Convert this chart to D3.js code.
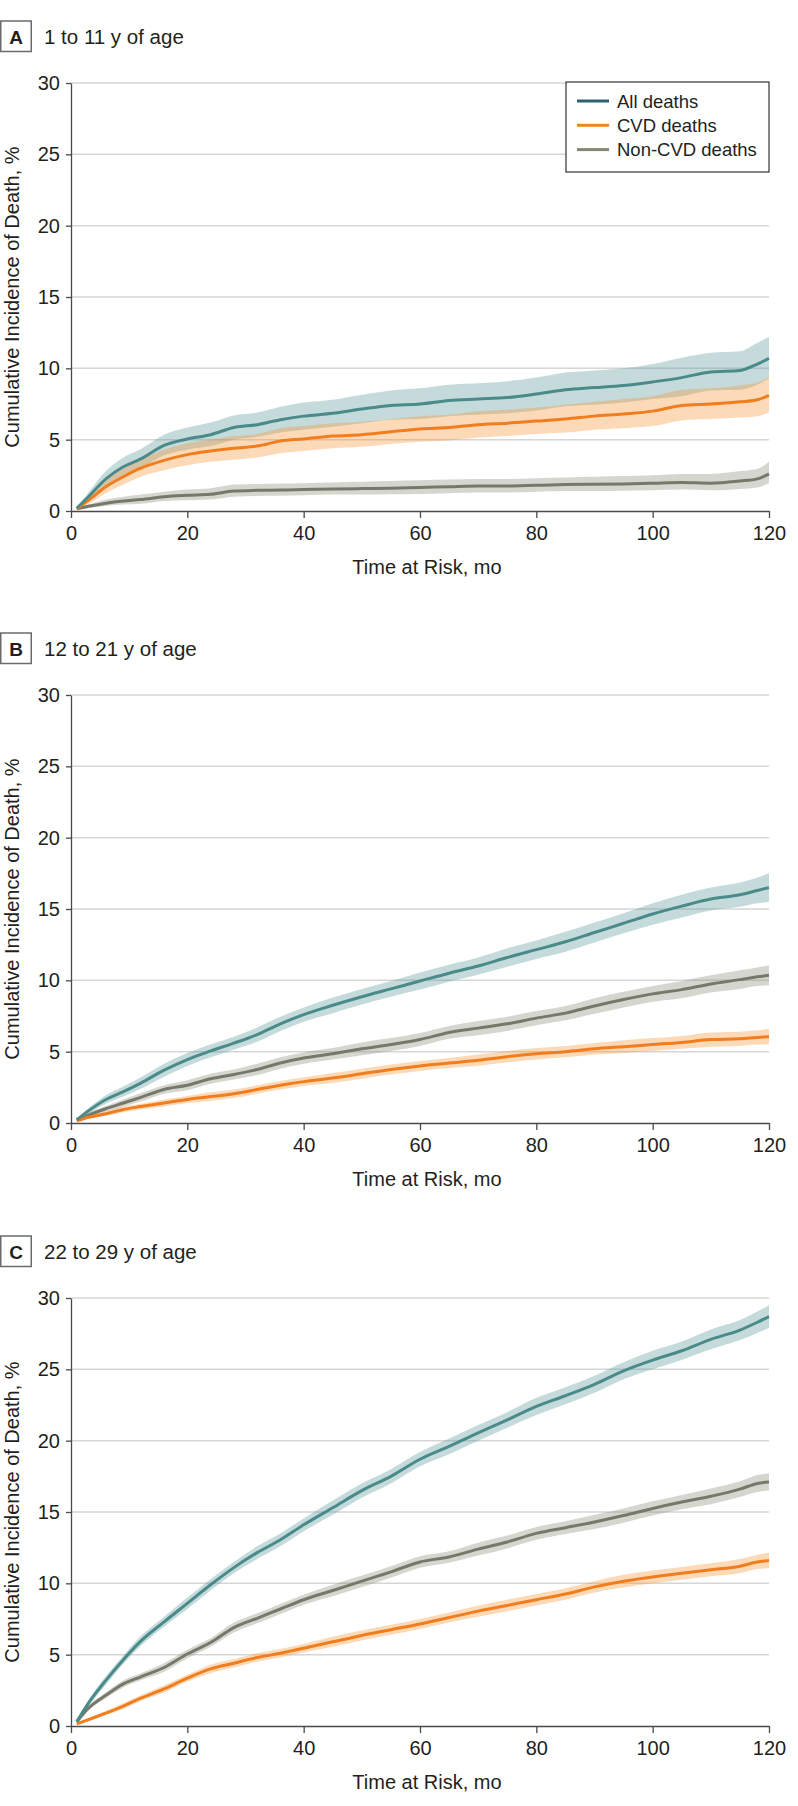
<!DOCTYPE html>
<html>
<head>
<meta charset="utf-8">
<script src="https://cdn.jsdelivr.net/npm/d3@7"></script>
<style>
  html, body { margin: 0; padding: 0; background: #fff; }
  svg { display: block; }
  text { font-family: "Liberation Sans", Arial, sans-serif; fill: #231f20; }
</style>
</head>
<body>
<svg id="chart" width="798" height="1806"></svg>
<script>
// ---------------- DATA ----------------
const months = [1,3,6,9,12,16,20,24,28,32,36,40,45,50,55,60,65,70,75,80,85,90,95,100,105,110,115,118,120];
const xTicks = [0,20,40,60,80,100,120];
const yTicks = [0,5,10,15,20,25,30];
const seriesNames = ["All deaths","CVD deaths","Non-CVD deaths"];
const panelLetters = ["A","B","C"];
const panelTitles = ["1 to 11 y of age","12 to 21 y of age","22 to 29 y of age"];

// Panel A
const aAll    = [0.2,1.0,2.25,3.1,3.65,4.6,5.05,5.35,5.85,6.05,6.4,6.65,6.85,7.15,7.4,7.5,7.75,7.85,7.95,8.2,8.5,8.65,8.8,9.05,9.35,9.75,9.85,10.3,10.7];
const aAllHi  = [0.25,1.3,2.8,3.75,4.35,5.35,5.85,6.2,6.7,6.9,7.3,7.6,7.8,8.15,8.45,8.6,8.85,8.95,9.1,9.35,9.7,9.85,10.0,10.3,10.75,11.1,11.2,11.8,12.2];
const aAllLo  = [0.15,0.75,1.75,2.5,3.0,3.9,4.3,4.55,5.0,5.2,5.5,5.7,5.9,6.15,6.4,6.45,6.65,6.75,6.85,7.05,7.35,7.45,7.6,7.85,8.05,8.45,8.5,8.85,9.3];
const aCvd    = [0.15,0.75,1.7,2.4,3.0,3.55,3.95,4.2,4.4,4.55,4.9,5.05,5.25,5.35,5.55,5.75,5.85,6.05,6.15,6.3,6.45,6.65,6.8,7.0,7.4,7.5,7.65,7.8,8.1];
const aCvdHi  = [0.2,1.05,2.2,3.0,3.65,4.3,4.75,5.0,5.25,5.4,5.8,5.95,6.15,6.25,6.45,6.65,6.75,7.0,7.1,7.25,7.45,7.65,7.85,8.05,8.5,8.6,8.8,9.0,9.4];
const aCvdLo  = [0.1,0.5,1.25,1.85,2.4,2.85,3.2,3.45,3.6,3.75,4.05,4.2,4.4,4.5,4.7,4.85,4.95,5.15,5.25,5.4,5.5,5.7,5.8,5.95,6.35,6.45,6.55,6.65,6.9];
const aNon    = [0.15,0.33,0.55,0.7,0.8,1.0,1.1,1.17,1.4,1.45,1.47,1.5,1.55,1.57,1.6,1.65,1.7,1.75,1.75,1.8,1.85,1.87,1.9,1.95,2.0,1.95,2.1,2.25,2.6];
const aNonHi  = [0.2,0.45,0.8,1.0,1.15,1.35,1.5,1.6,1.85,1.9,1.92,1.95,2.0,2.05,2.1,2.15,2.2,2.25,2.25,2.3,2.35,2.4,2.45,2.5,2.6,2.6,2.8,2.95,3.45];
const aNonLo  = [0.1,0.2,0.35,0.45,0.5,0.7,0.75,0.8,1.0,1.05,1.07,1.1,1.15,1.15,1.18,1.2,1.25,1.3,1.3,1.35,1.4,1.4,1.42,1.45,1.5,1.45,1.55,1.65,1.95];

// Panel B
const bAll    = [0.23,0.85,1.65,2.2,2.8,3.7,4.45,5.05,5.6,6.2,6.95,7.6,8.25,8.85,9.4,9.95,10.5,11.0,11.6,12.15,12.7,13.35,14.0,14.65,15.2,15.7,16.0,16.3,16.5];
const bAllHi  = [0.28,1.05,1.95,2.55,3.2,4.15,4.9,5.5,6.05,6.7,7.45,8.1,8.8,9.4,9.95,10.55,11.1,11.6,12.25,12.8,13.4,14.05,14.7,15.4,16.0,16.5,16.85,17.2,17.5];
const bAllLo  = [0.18,0.65,1.35,1.85,2.4,3.25,4.0,4.6,5.15,5.7,6.45,7.1,7.7,8.3,8.85,9.35,9.9,10.4,10.95,11.5,12.0,12.65,13.3,13.9,14.4,14.9,15.15,15.4,15.5];
const bCvd    = [0.15,0.4,0.65,0.95,1.15,1.4,1.65,1.85,2.05,2.35,2.65,2.9,3.15,3.45,3.75,4.0,4.2,4.4,4.65,4.85,5.0,5.2,5.35,5.5,5.65,5.85,5.9,6.0,6.05];
const bCvdHi  = [0.2,0.5,0.8,1.15,1.35,1.65,1.9,2.15,2.35,2.65,2.95,3.2,3.5,3.8,4.1,4.35,4.55,4.8,5.05,5.25,5.4,5.6,5.8,5.95,6.1,6.35,6.4,6.5,6.6];
const bCvdLo  = [0.1,0.3,0.5,0.75,0.95,1.15,1.4,1.55,1.75,2.05,2.35,2.6,2.8,3.1,3.4,3.65,3.85,4.0,4.25,4.45,4.6,4.8,4.9,5.05,5.2,5.35,5.4,5.5,5.5];
const bNon    = [0.2,0.55,1.0,1.4,1.8,2.35,2.65,3.1,3.4,3.75,4.2,4.55,4.85,5.2,5.5,5.85,6.35,6.65,6.95,7.35,7.7,8.2,8.65,9.05,9.35,9.75,10.05,10.25,10.35];
const bNonHi  = [0.25,0.7,1.2,1.65,2.1,2.65,3.0,3.45,3.75,4.15,4.6,4.95,5.25,5.65,5.95,6.3,6.8,7.15,7.45,7.85,8.2,8.75,9.2,9.6,9.95,10.35,10.7,10.9,11.05];
const bNonLo  = [0.15,0.4,0.8,1.15,1.5,2.05,2.3,2.75,3.05,3.35,3.8,4.15,4.45,4.75,5.05,5.4,5.9,6.15,6.45,6.85,7.2,7.65,8.1,8.5,8.75,9.15,9.4,9.6,9.65];

// Panel C
const cAll    = [0.3,1.6,3.2,4.65,5.95,7.3,8.6,9.9,11.1,12.15,13.05,14.1,15.3,16.5,17.5,18.7,19.6,20.55,21.45,22.4,23.15,23.95,24.9,25.65,26.3,27.1,27.75,28.3,28.7];
const cAllHi  = [0.35,1.8,3.5,4.95,6.3,7.65,9.0,10.3,11.5,12.6,13.5,14.55,15.8,17.0,18.0,19.2,20.15,21.1,22.0,23.0,23.75,24.55,25.5,26.3,26.95,27.8,28.45,29.05,29.5];
const cAllLo  = [0.25,1.4,2.9,4.35,5.6,6.95,8.2,9.5,10.7,11.7,12.6,13.65,14.8,16.0,17.0,18.2,19.05,20.0,20.9,21.8,22.55,23.35,24.3,25.0,25.65,26.4,27.05,27.55,27.9];
const cCvd    = [0.15,0.45,0.9,1.4,1.95,2.6,3.35,4.0,4.4,4.8,5.1,5.45,5.9,6.35,6.75,7.15,7.6,8.05,8.45,8.85,9.25,9.75,10.15,10.45,10.7,10.95,11.2,11.5,11.6];
const cCvdHi  = [0.2,0.55,1.05,1.6,2.15,2.85,3.6,4.3,4.7,5.1,5.4,5.75,6.25,6.7,7.1,7.5,7.95,8.45,8.85,9.25,9.65,10.15,10.6,10.9,11.15,11.4,11.7,12.0,12.15];
const cCvdLo  = [0.1,0.35,0.75,1.2,1.75,2.35,3.1,3.7,4.1,4.5,4.8,5.15,5.55,6.0,6.4,6.8,7.25,7.65,8.05,8.45,8.85,9.35,9.7,10.0,10.25,10.5,10.7,11.0,11.05];
const cNon    = [0.3,1.25,2.15,2.95,3.45,4.1,5.05,5.85,6.9,7.55,8.2,8.85,9.5,10.15,10.8,11.5,11.85,12.4,12.9,13.5,13.9,14.3,14.75,15.25,15.7,16.1,16.6,17.0,17.1];
const cNonHi  = [0.35,1.4,2.35,3.2,3.7,4.4,5.35,6.15,7.25,7.9,8.55,9.2,9.9,10.55,11.2,11.9,12.25,12.85,13.35,13.95,14.35,14.8,15.25,15.75,16.2,16.65,17.15,17.6,17.7];
const cNonLo  = [0.25,1.1,1.95,2.7,3.2,3.8,4.75,5.55,6.55,7.2,7.85,8.5,9.1,9.75,10.4,11.1,11.45,11.95,12.45,13.05,13.45,13.8,14.25,14.75,15.2,15.55,16.05,16.4,16.5];

// ---------------- STYLE ----------------
const lineColors   = ["#4b8a8a", "#f07d1e", "#77776a"];
const bandColors   = ["#5d9a9a", "#f7942f", "#8e8e7e"];
const bandOpacity  = [0.36, 0.34, 0.36];
const legendColors = ["#2f6170", "#f0861e", "#858676"];

const panels = [
  {letter: panelLetters[0], title: panelTitles[0], top: 83,
   series: [[aAll,aAllLo,aAllHi],[aCvd,aCvdLo,aCvdHi],[aNon,aNonLo,aNonHi]], legend: true},
  {letter: panelLetters[1], title: panelTitles[1], top: 695,
   series: [[bAll,bAllLo,bAllHi],[bCvd,bCvdLo,bCvdHi],[bNon,bNonLo,bNonHi]], legend: false},
  {letter: panelLetters[2], title: panelTitles[2], top: 1298,
   series: [[cAll,cAllLo,cAllHi],[cCvd,cCvdLo,cCvdHi],[cNon,cNonLo,cNonHi]], legend: false}
];

const svg = d3.select("#chart");
const left = 71, right = 769, plotH = 428;
const x = d3.scaleLinear().domain([0,120]).range([left, right]);

panels.forEach(p => {
  const g = svg.append("g");
  const y = d3.scaleLinear().domain([0,30]).range([p.top + plotH, p.top]);

  // header
  g.append("rect").attr("x", 0.75).attr("y", p.top - 62).attr("width", 30.5).attr("height", 30.5)
    .attr("fill", "none").attr("stroke", "#6b6b6b").attr("stroke-width", 1.5);
  g.append("text").attr("x", 16).attr("y", p.top - 39.5).attr("text-anchor", "middle")
    .style("font-size", "19px").style("font-weight", "bold").text(p.letter);
  g.append("text").attr("x", 44).attr("y", p.top - 39).style("font-size", "20.5px").text(p.title);

  // gridlines
  g.append("g").selectAll("line").data(yTicks.filter(d => d > 0)).join("line")
    .attr("x1", left).attr("x2", right).attr("y1", d => y(d)).attr("y2", d => y(d))
    .attr("stroke", "#d6d6d6").attr("stroke-width", 1.5);

  // bands
  p.series.forEach((s, i) => {
    const pts = months.map((m, k) => ({m, lo: s[1][k], hi: s[2][k]}));
    g.append("path").datum(pts)
      .attr("d", d3.area().x(d => x(d.m)).y0(d => y(d.lo)).y1(d => y(d.hi)).curve(d3.curveMonotoneX))
      .attr("fill", bandColors[i]).attr("fill-opacity", bandOpacity[i]);
  });
  // lines
  [2,1,0].forEach(i => {
    const s = p.series[i];
    const pts = months.map((m, k) => ({m, v: s[0][k]}));
    g.append("path").datum(pts)
      .attr("d", d3.line().x(d => x(d.m)).y(d => y(d.v)).curve(d3.curveMonotoneX))
      .attr("fill", "none").attr("stroke", lineColors[i]).attr("stroke-width", 3)
      .attr("stroke-linejoin", "round");
  });

  // axes
  const yAxis = g.append("g").attr("transform", `translate(${left},0)`)
    .call(d3.axisLeft(y).tickValues(yTicks).tickSize(5).tickSizeOuter(0).tickPadding(6));
  const xAxis = g.append("g").attr("transform", `translate(0,${p.top + plotH})`)
    .call(d3.axisBottom(x).tickValues(xTicks).tickSize(7).tickSizeOuter(0).tickPadding(8));
  [yAxis, xAxis].forEach(a => {
    a.select(".domain").attr("stroke", "#4a4a4a").attr("stroke-width", 1.3);
    a.selectAll(".tick line").attr("stroke", "#4a4a4a").attr("stroke-width", 1.3);
    a.selectAll(".tick text").style("font-size", "20px").style("font-family", '"Liberation Sans", Arial, sans-serif').attr("fill", "#231f20");
  });

  // axis titles
  g.append("text").attr("x", 427).attr("y", p.top + plotH + 63).attr("text-anchor", "middle")
    .style("font-size", "20px").text("Time at Risk, mo");
  g.append("text").attr("transform", `translate(19,${p.top + plotH / 2}) rotate(-90)`)
    .attr("text-anchor", "middle").style("font-size", "20px").text("Cumulative Incidence of Death, %");

  // legend
  if (p.legend) {
    const lg = g.append("g");
    lg.append("rect").attr("x", 566).attr("y", p.top - 1).attr("width", 203).attr("height", 90)
      .attr("fill", "#fff").attr("stroke", "#333").attr("stroke-width", 1.2);
    seriesNames.forEach((n, i) => {
      const cy = p.top + 18 + i * 24.3;
      lg.append("line").attr("x1", 577).attr("x2", 609).attr("y1", cy).attr("y2", cy)
        .attr("stroke", legendColors[i]).attr("stroke-width", 3);
      lg.append("text").attr("x", 617).attr("y", cy + 6.5).style("font-size", "18.5px").text(n);
    });
  }
});
</script>
</body>
</html>
